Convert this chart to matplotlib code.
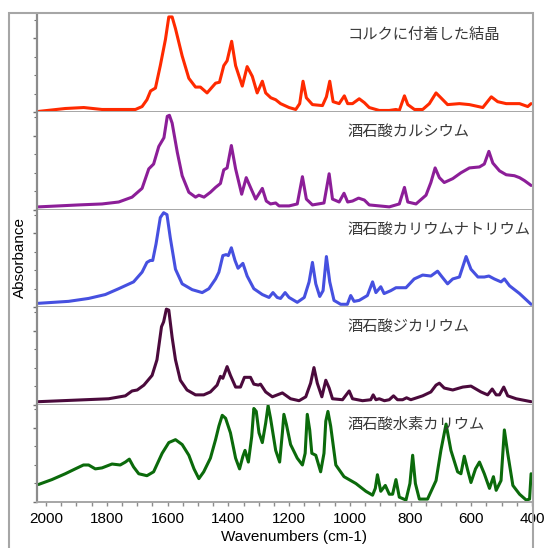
import matplotlib
matplotlib.use('Agg')
import matplotlib.pyplot as plt
from matplotlib.patches import Rectangle
from matplotlib.ticker import MultipleLocator

# サンプル名 (上から順)
names = ['コルクに付着した結晶', '酒石酸カルシウム', '酒石酸カリウムナトリウム',
         '酒石酸ジカリウム', '酒石酸水素カリウム']
colors = ['#ff2a00', '#8c1e98', '#4650e0', '#4b0a3c', '#0b6a0b']

# コルクに付着した結晶
wn_cork = [2025, 1937, 1876, 1816, 1706, 1684, 1668, 1656, 1640, 1624, 1607, 1596, 1585,
           1574, 1552, 1530, 1508, 1492, 1470, 1442, 1429, 1415, 1404, 1389, 1376, 1354,
           1338, 1321, 1305, 1288, 1277, 1260, 1244, 1228, 1200, 1178, 1165, 1154, 1143,
           1123, 1090, 1077, 1066, 1055, 1035, 1018, 1007, 991, 969, 952, 936, 903, 870,
           848, 837, 820, 809, 787, 760, 738, 716, 700, 678, 639, 606, 562, 534, 513, 485,
           441, 414, 403]
ab_cork = [0.01, 0.04, 0.05, 0.03, 0.03, 0.06, 0.13, 0.22, 0.25, 0.48, 0.75, 0.98, 0.98,
           0.86, 0.58, 0.35, 0.26, 0.26, 0.20, 0.30, 0.31, 0.48, 0.53, 0.73, 0.48, 0.27,
           0.47, 0.37, 0.20, 0.32, 0.20, 0.15, 0.13, 0.09, 0.05, 0.03, 0.09, 0.32, 0.15,
           0.08, 0.07, 0.16, 0.32, 0.11, 0.09, 0.17, 0.09, 0.09, 0.14, 0.10, 0.05, 0.02, 0.02,
           0.03, 0.02, 0.17, 0.08, 0.03, 0.03, 0.09, 0.20, 0.15, 0.08, 0.09, 0.08, 0.05, 0.16,
           0.11, 0.09, 0.09, 0.06, 0.09]

# 酒石酸カルシウム
wn_ca = [2025, 1893, 1816, 1761, 1717, 1684, 1662, 1646, 1629, 1612, 1601, 1594, 1585, 1568,
         1552, 1530, 1508, 1497, 1480, 1459, 1442, 1426, 1415, 1404, 1390, 1376, 1356, 1341,
         1327, 1310, 1288, 1275, 1261, 1244, 1233, 1200, 1173, 1156, 1143, 1123, 1085, 1068,
         1057, 1035, 1019, 1007, 991, 971, 952, 936, 870, 848, 837, 820, 809, 782, 749, 733,
         719, 705, 689, 661, 634, 606, 573, 557, 542, 529, 507, 485, 458, 441, 425, 403]
ab_ca = [0.03, 0.05, 0.06, 0.08, 0.13, 0.22, 0.42, 0.47, 0.65, 0.74, 0.96, 0.97, 0.89, 0.59,
         0.35, 0.18, 0.13, 0.15, 0.13, 0.18, 0.23, 0.27, 0.41, 0.43, 0.66, 0.42, 0.16, 0.33,
         0.23, 0.11, 0.22, 0.09, 0.06, 0.07, 0.04, 0.04, 0.06, 0.34, 0.11, 0.05, 0.07, 0.37,
         0.11, 0.08, 0.17, 0.08, 0.09, 0.12, 0.10, 0.05, 0.03, 0.05, 0.06, 0.23, 0.08, 0.06,
         0.15, 0.28, 0.43, 0.33, 0.28, 0.32, 0.38, 0.43, 0.44, 0.47, 0.60, 0.48, 0.40, 0.36,
         0.35, 0.33, 0.30, 0.25]

# 酒石酸カリウムナトリウム
wn_kna = [2025, 1926, 1860, 1805, 1761, 1712, 1684, 1668, 1657, 1649, 1638, 1624, 1613, 1602,
          1591, 1574, 1552, 1519, 1486, 1464, 1442, 1431, 1418, 1407, 1400, 1390, 1378, 1368,
          1352, 1338, 1316, 1288, 1266, 1253, 1239, 1228, 1213, 1200, 1173, 1150, 1134, 1123,
          1112, 1099, 1088, 1077, 1066, 1052, 1030, 1008, 997, 986, 969, 942, 925, 914, 898,
          887, 865, 848, 815, 788, 760, 733, 711, 696, 678, 661, 639, 617, 601, 578, 557, 542,
          524, 502, 491, 474, 441, 403]
ab_kna = [0.04, 0.06, 0.09, 0.13, 0.19, 0.26, 0.36, 0.46, 0.48, 0.48, 0.65, 0.92, 0.97, 0.95,
          0.71, 0.39, 0.24, 0.18, 0.15, 0.19, 0.29, 0.36, 0.53, 0.54, 0.53, 0.61, 0.48, 0.40,
          0.45, 0.32, 0.19, 0.13, 0.10, 0.15, 0.10, 0.09, 0.15, 0.10, 0.05, 0.10, 0.26, 0.46,
          0.24, 0.11, 0.17, 0.52, 0.26, 0.07, 0.03, 0.03, 0.12, 0.06, 0.07, 0.12, 0.26, 0.15,
          0.21, 0.14, 0.17, 0.20, 0.20, 0.29, 0.33, 0.32, 0.37, 0.31, 0.24, 0.29, 0.31, 0.52,
          0.39, 0.31, 0.31, 0.32, 0.29, 0.26, 0.29, 0.22, 0.14, 0.03]

# 酒石酸ジカリウム
wn_k2 = [2025, 1871, 1794, 1739, 1717, 1700, 1678, 1651, 1635, 1620, 1613, 1604, 1596, 1585,
         1574, 1558, 1536, 1508, 1481, 1459, 1437, 1426, 1418, 1404, 1393, 1376, 1360, 1347,
         1327, 1316, 1301, 1294, 1277, 1255, 1222, 1195, 1167, 1145, 1129, 1118, 1107, 1092,
         1079, 1068, 1057, 1024, 1002, 991, 958, 931, 923, 914, 903, 886, 870, 856, 843, 826,
         813, 799, 760, 733, 716, 705, 689, 661, 628, 601, 568, 546, 531, 518, 507, 493, 480,
         452, 403]
ab_k2 = [0.03, 0.05, 0.06, 0.09, 0.14, 0.15, 0.20, 0.30, 0.46, 0.80, 0.85, 0.98, 0.97, 0.69,
         0.46, 0.25, 0.15, 0.10, 0.10, 0.13, 0.20, 0.29, 0.27, 0.39, 0.30, 0.18, 0.18, 0.28,
         0.28, 0.21, 0.20, 0.21, 0.13, 0.08, 0.12, 0.06, 0.04, 0.08, 0.22, 0.38, 0.22, 0.08,
         0.25, 0.17, 0.06, 0.05, 0.14, 0.06, 0.04, 0.05, 0.10, 0.05, 0.06, 0.04, 0.05, 0.09,
         0.05, 0.05, 0.07, 0.05, 0.09, 0.13, 0.20, 0.22, 0.17, 0.15, 0.18, 0.19, 0.13, 0.10,
         0.16, 0.10, 0.10, 0.18, 0.09, 0.06, 0.03]

# 酒石酸水素カリウム
wn_kh = [2025, 1981, 1937, 1904, 1877, 1860, 1838, 1816, 1783, 1756, 1739, 1726, 1712, 1695,
         1668, 1646, 1618, 1596, 1574, 1552, 1530, 1513, 1497, 1481, 1459, 1442, 1431, 1420,
         1409, 1393, 1376, 1363, 1352, 1345, 1334, 1323, 1316, 1308, 1299, 1288, 1277, 1269,
         1261, 1244, 1231, 1222, 1217, 1209, 1195, 1173, 1156, 1147, 1140, 1132, 1125, 1112,
         1096, 1085, 1079, 1072, 1063, 1046, 1019, 980, 947, 925, 916, 909, 898, 883, 870,
         859, 848, 837, 815, 802, 793, 784, 771, 744, 716, 700, 683, 667, 645, 634, 623, 612,
         601, 586, 573, 557, 540, 527, 518, 502, 491, 480, 463, 441, 419, 408, 403]
ab_kh = [0.18, 0.23, 0.29, 0.34, 0.38, 0.38, 0.34, 0.35, 0.39, 0.38, 0.41, 0.44, 0.36, 0.29,
         0.27, 0.31, 0.50, 0.61, 0.64, 0.59, 0.48, 0.34, 0.24, 0.31, 0.45, 0.64, 0.78, 0.89,
         0.86, 0.71, 0.45, 0.34, 0.47, 0.53, 0.41, 0.67, 0.96, 0.93, 0.71, 0.61, 0.81, 0.99,
         0.86, 0.53, 0.41, 0.71, 0.90, 0.80, 0.59, 0.45, 0.38, 0.50, 0.90, 0.74, 0.50, 0.48,
         0.31, 0.50, 0.83, 0.93, 0.78, 0.38, 0.26, 0.19, 0.11, 0.07, 0.14, 0.28, 0.11, 0.17,
         0.08, 0.08, 0.23, 0.05, 0.02, 0.19, 0.48, 0.19, 0.03, 0.03, 0.22, 0.53, 0.80, 0.53,
         0.31, 0.29, 0.47, 0.33, 0.20, 0.34, 0.41, 0.29, 0.14, 0.26, 0.12, 0.22, 0.74, 0.50,
         0.17, 0.08, 0.02, 0.03, 0.29]

spectra = [(wn_cork, ab_cork), (wn_ca, ab_ca), (wn_kna, ab_kna), (wn_k2, ab_k2), (wn_kh, ab_kh)]

W, H = 547, 548
fig = plt.figure(figsize=(W / 100, H / 100), dpi=100)
fig.patch.set_facecolor('white')

left, right = 37 / W, 532 / W
top, bottom = 1 - 15 / H, 1 - 502 / H
ph = (top - bottom) / 5
spine_gray = '#a6a6a6'

axes = []
for i, ((wn, ab), name, c) in enumerate(zip(spectra, names, colors)):
    ax = fig.add_axes([left, top - (i + 1) * ph, right - left, ph])
    ax.plot(wn, ab, color=c, lw=2.2, solid_joinstyle='round', solid_capstyle='round')
    ax.set_xlim(2030, 400)
    ax.set_ylim(0, 1.0)
    for s in ['top', 'right']:
        ax.spines[s].set_visible(False)
    ax.spines['left'].set_color('#8c8c8c')
    ax.spines['left'].set_linewidth(1.6)
    ax.spines['bottom'].set_color(spine_gray)
    ax.spines['bottom'].set_linewidth(1.4)
    ax.yaxis.set_major_locator(MultipleLocator(0.76))
    ax.yaxis.set_minor_locator(MultipleLocator(0.19))
    ax.tick_params(axis='y', which='both', direction='out', colors='#707070',
                   labelleft=False)
    ax.tick_params(axis='y', which='major', length=3, width=1)
    ax.tick_params(axis='y', which='minor', length=2, width=0.8)
    ax.text(0.628, 0.80, name, transform=ax.transAxes, ha='left', va='center',
            fontsize=11, color='#3a3a3a', family=['Noto Sans CJK JP', 'DejaVu Sans'])
    if i < 4:
        ax.tick_params(axis='x', which='both', bottom=False, labelbottom=False)
    else:
        ax.xaxis.set_major_locator(MultipleLocator(200))
        ax.xaxis.set_minor_locator(MultipleLocator(50))
        ax.tick_params(axis='x', which='both', direction='out', length=3, width=1,
                       colors='#8c8c8c', labelcolor='black', labelsize=11, pad=4)
        for lab in ax.get_xticklabels():
            lab.set_family('Liberation Sans')
    axes.append(ax)

fig.text(20 / W, 1 - 258 / H, 'Absorbance', rotation=90, ha='center', va='center',
         fontsize=11, family='Liberation Sans')
fig.text(294 / W, 1 - 537 / H, 'Wavenumbers (cm-1)', ha='center', va='center',
         fontsize=11, family='Liberation Sans')

# 外枠
frame = Rectangle((9 / W, -0.1), (533 - 9) / W, 1.1 - 13 / H, transform=fig.transFigure,
                  fill=False, edgecolor=spine_gray, lw=1.5, zorder=10)
fig.add_artist(frame)

fig.savefig('out.png', dpi=100)
